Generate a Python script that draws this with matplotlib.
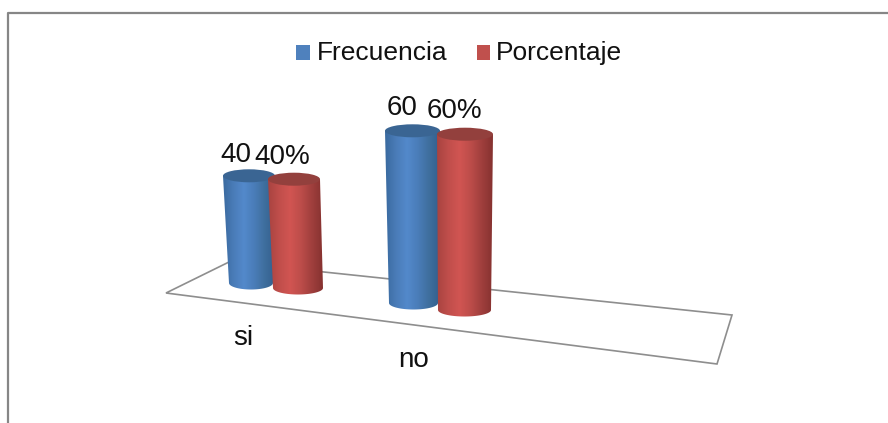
import numpy as np
import matplotlib
matplotlib.use('Agg')
import matplotlib.pyplot as plt
from matplotlib.colors import LinearSegmentedColormap
from matplotlib.patches import Ellipse, PathPatch, Polygon, Rectangle
from matplotlib.path import Path

plt.rcParams['font.family'] = ['Liberation Sans', 'DejaVu Sans']

# Data
categories = ['si', 'no']
frecuencia = [40, 60]
porcentaje = [40, 60]
series_names = ['Frecuencia', 'Porcentaje']

# Fake 3D layout, in image pixels (x, base y, px per unit, half width base, half width top, top x)
LAYOUT = {
    ('Frecuencia', 'si'): (251, 283, 2.68, 22, 26, 249),
    ('Porcentaje', 'si'): (298, 288, 2.72, 25, 26, 294),
    ('Frecuencia', 'no'): (413.5, 303, 2.87, 24.5, 27.5, 412.5),
    ('Porcentaje', 'no'): (464.5, 310, 2.93, 26.5, 28, 465),
}
LABEL_POS = {
    ('Frecuencia', 'si'): (236, 162),
    ('Porcentaje', 'si'): (282.5, 164),
    ('Frecuencia', 'no'): (402.5, 115),
    ('Porcentaje', 'no'): (454.5, 118),
}
CATEGORY_POS = {'si': (243, 345), 'no': (414, 367)}

BLUE = LinearSegmentedColormap.from_list('blue', ['#3a6a9f', '#4a7cb8', '#5389cb', '#4a7db9', '#3f6f9e', '#335f8e'])
RED = LinearSegmentedColormap.from_list('red', ['#a84340', '#c04e4b', '#d15552', '#bd4d4a', '#a03f3d', '#863230'])
CMAPS = {'Frecuencia': BLUE, 'Porcentaje': RED}
TOPS = {'Frecuencia': '#3a6593', 'Porcentaje': '#93403d'}
ELLIPSE_H = 6.5


def draw_cylinder(ax, name, cat, value):
    x, base, scale, hw_b, hw_t, top_x = LAYOUT[(name, cat)]
    top = base - value * scale
    # Body: down the left side, under the base arc, up the right side, along the top arc
    t = np.linspace(np.pi, 0, 40)
    arc_b = np.column_stack([x + hw_b * np.cos(t), base + ELLIPSE_H * np.sin(t)])
    verts = np.vstack([[top_x - hw_t, top], arc_b, [top_x + hw_t, top], [top_x - hw_t, top]])
    codes = [Path.MOVETO] + [Path.LINETO] * (len(verts) - 2) + [Path.CLOSEPOLY]
    body = PathPatch(Path(verts, codes), facecolor='none', edgecolor='none', zorder=3)
    ax.add_patch(body)
    grad = np.linspace(0, 1, 128).reshape(1, -1)
    left = min(top_x - hw_t, x - hw_b)
    right = max(top_x + hw_t, x + hw_b)
    im = ax.imshow(grad, cmap=CMAPS[name], aspect='auto', zorder=3,
                   extent=(left, right, base + ELLIPSE_H + 1, top - 1))
    im.set_clip_path(body)
    ax.add_patch(Ellipse((top_x, top), 2 * hw_t, 2 * ELLIPSE_H,
                         facecolor=TOPS[name], edgecolor='none', zorder=3))


def plot_chart():
    fig = plt.figure(figsize=(8.88, 4.23), dpi=100)
    ax = fig.add_axes([0, 0, 1, 1])

    # Chart frame, cut off on the right and at the bottom
    ax.plot([8, 8, 888], [423, 13, 13], color='#868686', lw=1.6, zorder=1)

    # Floor
    ax.add_patch(Polygon([(166, 293), (229, 262), (732, 315), (717, 364)], closed=True,
                         facecolor='white', edgecolor='#8e8e8e', lw=1.2, zorder=2))

    values = {'Frecuencia': frecuencia, 'Porcentaje': porcentaje}
    suffix = {'Frecuencia': '', 'Porcentaje': '%'}
    for i, cat in enumerate(categories):
        for name in series_names:
            draw_cylinder(ax, name, cat, values[name][i])
            lx, ly = LABEL_POS[(name, cat)]
            ax.text(lx, ly, f'{values[name][i]}{suffix[name]}', fontsize=20, color='#111111',
                    ha='center', va='baseline', zorder=5)
        cx, cy = CATEGORY_POS[cat]
        ax.text(cx, cy, cat, fontsize=20, color='#111111', ha='center', va='baseline', zorder=5)

    # Legend
    ax.add_patch(Rectangle((296, 45), 14, 15, facecolor='#4f81bd', edgecolor='none'))
    ax.text(317, 60, series_names[0], fontsize=19, color='#111111', va='baseline')
    ax.add_patch(Rectangle((477, 45), 13, 15, facecolor='#c0504d', edgecolor='none'))
    ax.text(496, 60, series_names[1], fontsize=19, color='#111111', va='baseline')

    ax.set_xlim(0, 888)
    ax.set_ylim(423, 0)
    ax.axis('off')
    fig.savefig('out.png', dpi=100)


if __name__ == '__main__':
    plot_chart()
